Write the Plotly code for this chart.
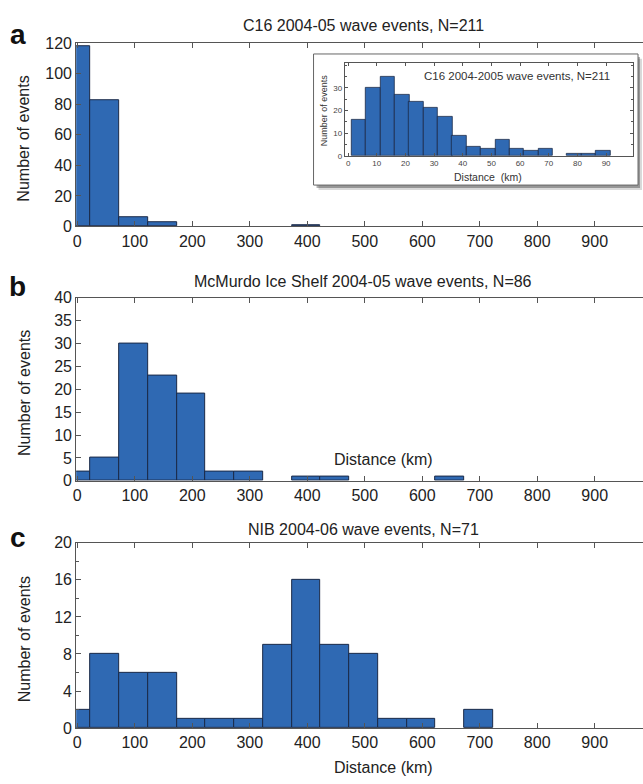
import plotly.graph_objects as go

W, H = 643, 784

# ---------------- data ----------------
main_bin_centers = [-2, 48, 98, 148, 198, 248, 298, 348, 398, 448, 498, 548, 598, 648, 698]
c16_counts = [118, 83, 6, 3, 0, 0, 0, 0, 1, 0, 0, 0, 0, 0, 0]
mcm_counts = [2, 5, 30, 23, 19, 2, 2, 0, 1, 1, 0, 0, 0, 1, 0]
nib_counts = [2, 8, 6, 6, 1, 1, 1, 9, 16, 9, 8, 1, 1, 0, 2]
main_bin_width = 50

inset_bin_centers = [3.7, 8.7, 13.8, 18.8, 23.8, 28.8, 33.8, 38.8, 43.8, 48.8,
                     53.9, 58.9, 63.9, 68.9, 73.9, 78.9, 83.9, 89.0]
inset_counts = [16, 30, 35, 27, 24, 21, 17, 9, 4, 3, 7, 3, 2, 3, 0, 1, 1, 2]
inset_bin_width = 5.01

x_ticks = [0, 100, 200, 300, 400, 500, 600, 700, 800, 900]
inset_x_ticks = [0, 10, 20, 30, 40, 50, 60, 70, 80, 90]

titles = ["C16 2004-05 wave events, N=211",
          "McMurdo Ice Shelf 2004-05 wave events, N=86",
          "NIB 2004-06 wave events, N=71"]
inset_title = "C16 2004-2005 wave events, N=211"

# ---------------- helpers ----------------
def px(x):
    return x / W

def py(y):
    return 1 - y / H

def nz(vals):
    # empty bins are not drawn (no outline on the baseline)
    return [v if v != 0 else None for v in vals]

FILL = "#2f69b3"
EDGE = "#1b2a48"
AX = "#555555"
TXT = "#222222"
FONT = "Liberation Sans, Arial, sans-serif"

fig = go.Figure()

series = [c16_counts, mcm_counts, nib_counts]
for i, counts in enumerate(series):
    sfx = "" if i == 0 else str(i + 1)
    fig.add_trace(go.Bar(x=main_bin_centers, y=nz(counts), width=main_bin_width,
                         marker=dict(color=FILL, line=dict(color=EDGE, width=1)),
                         xaxis="x" + sfx, yaxis="y" + sfx, showlegend=False))

fig.add_trace(go.Bar(x=inset_bin_centers, y=nz(inset_counts), width=inset_bin_width,
                     marker=dict(color=FILL, line=dict(color=EDGE, width=0.8)),
                     xaxis="x4", yaxis="y4", showlegend=False))

# panel geometry (pixels): top, bottom
panels = [(36, 223.3), (296, 483.3), (546.7, 736)]
yranges = [[0, 120], [0, 40], [0, 20]]
ydticks = [20, 5, 4]
xdom = [px(73.5), 1.0]

layout = dict(width=W, height=H, margin=dict(l=0, r=0, t=0, b=0),
              paper_bgcolor="white", plot_bgcolor="rgba(0,0,0,0)",
              bargap=0, font=dict(family=FONT, color=TXT), showlegend=False)

for i in range(3):
    sfx = "" if i == 0 else str(i + 1)
    top, bot = panels[i]
    xa = dict(domain=xdom, range=[-2, 984], anchor="y" + sfx,
              tickvals=x_ticks, ticks="inside", ticklen=5, tickcolor=AX,
              showline=True, linecolor=AX, linewidth=1, mirror="ticks",
              showgrid=False, zeroline=False, tickfont=dict(size=16, color=TXT))
    ya = dict(domain=[py(bot), py(top)], range=yranges[i], anchor="x" + sfx,
              dtick=ydticks[i], tick0=0, ticks="inside", ticklen=5, tickcolor=AX,
              showline=True, linecolor=AX, linewidth=1, mirror=False,
              showgrid=False, zeroline=False, tickfont=dict(size=16, color=TXT))
    if i == 2:
        ya["minor"] = dict(dtick=2, ticks="inside", ticklen=3, tickcolor=AX)
    layout["xaxis" + sfx] = xa
    layout["yaxis" + sfx] = ya

# inset axes
layout["xaxis4"] = dict(domain=[px(343.3), px(633.3)], range=[-1.2, 99.5], anchor="y4",
                        tickvals=inset_x_ticks, ticks="inside", ticklen=3, tickcolor=AX,
                        showline=True, linecolor=AX, linewidth=1, mirror="ticks",
                        showgrid=False, zeroline=False, tickfont=dict(size=8, color="#444"))
layout["yaxis4"] = dict(domain=[py(151), py(56)], range=[0, 41], anchor="x4",
                        tickvals=[0, 10, 20, 30], ticks="inside", ticklen=3, tickcolor=AX,
                        minor=dict(dtick=5, ticks="inside", ticklen=2, tickcolor=AX),
                        showline=True, linecolor=AX, linewidth=1, mirror="ticks",
                        showgrid=False, zeroline=False, tickfont=dict(size=8, color="#444"))

fig.update_layout(**layout)

# inset box with shadow
shapes = [
    dict(type="rect", xref="paper", yref="paper", x0=px(317), x1=px(642), y0=py(186), y1=py(52),
         fillcolor="rgba(0,0,0,0.15)", line=dict(width=0), layer="below"),
    dict(type="rect", xref="paper", yref="paper", x0=px(315), x1=px(640), y0=py(184), y1=py(50),
         fillcolor="rgba(0,0,0,0.30)", line=dict(width=0), layer="below"),
    dict(type="rect", xref="paper", yref="paper", x0=px(312), x1=px(638), y0=py(181), y1=py(47),
         fillcolor="white", line=dict(color="#666666", width=1), layer="below"),
]
fig.update_layout(shapes=shapes)

ann = []
# panel titles
title_y = [18, 280, 533]
for t, ty in zip(titles, title_y):
    ann.append(dict(text=t, x=px(362), y=py(ty), xref="paper", yref="paper",
                    showarrow=False, font=dict(size=16, color=TXT), xanchor="center", yanchor="middle"))
# panel letters
for letter, ly in zip(["a", "b", "c"], [27, 285, 541]):
    ann.append(dict(text="<b>%s</b>" % letter, x=px(15), y=py(ly), xref="paper", yref="paper",
                    showarrow=False, font=dict(size=28, color="#111"), xanchor="center", yanchor="middle"))
# y-axis titles
for top, bot in panels:
    ann.append(dict(text="Number of events", x=px(21), y=py((top + bot) / 2 + 4), xref="paper", yref="paper",
                    showarrow=False, textangle=-90, font=dict(size=16, color=TXT),
                    xanchor="center", yanchor="middle"))
# x-axis titles
ann.append(dict(text="Distance (km)", x=px(382), y=py(461), xref="paper", yref="paper",
                showarrow=False, font=dict(size=16, color=TXT), xanchor="center", yanchor="middle"))
ann.append(dict(text="Distance (km)", x=px(382), y=py(776), xref="paper", yref="paper",
                showarrow=False, font=dict(size=16, color=TXT), xanchor="center", yanchor="middle"))
# inset texts
ann.append(dict(text=inset_title, x=px(516), y=py(70), xref="paper", yref="paper",
                showarrow=False, font=dict(size=11.5, color="#333"), xanchor="center", yanchor="middle"))
ann.append(dict(text="Number of events", x=px(322), y=py(104), xref="paper", yref="paper",
                showarrow=False, textangle=-90, font=dict(size=9, color="#333"),
                xanchor="center", yanchor="middle"))
ann.append(dict(text="Distance  (km)", x=px(487), y=py(173), xref="paper", yref="paper",
                showarrow=False, font=dict(size=10.5, color="#333"), xanchor="center", yanchor="middle"))

fig.update_layout(annotations=ann)

fig.write_html("out.html")
